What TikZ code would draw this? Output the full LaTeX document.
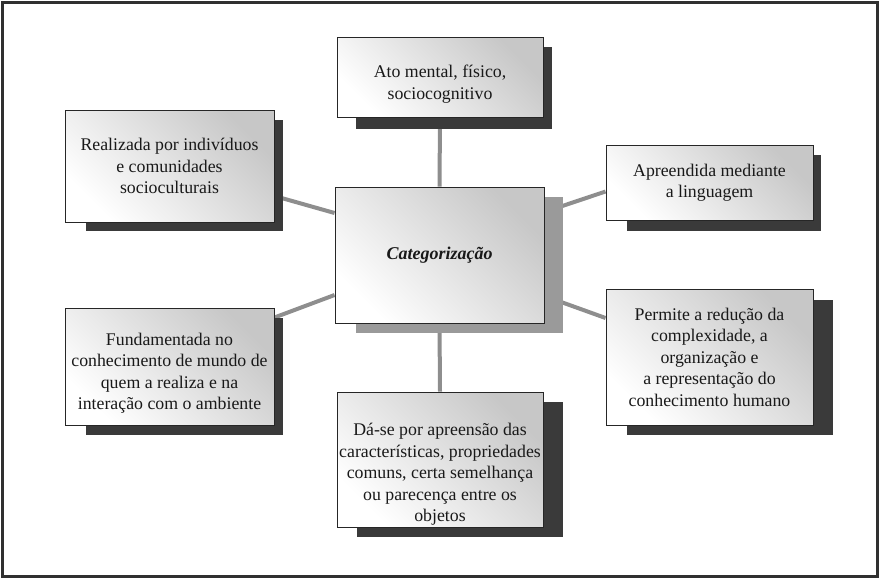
\documentclass[tikz,border=0pt]{standalone}
\usepackage{fontspec}
\setmainfont{Liberation Serif}
\definecolor{shadowdark}{HTML}{3A3A3A}
\definecolor{shadowlight}{HTML}{9A9A9A}
\definecolor{linkgray}{HTML}{8E8E8E}
\definecolor{framegray}{HTML}{303030}
\pgfdeclarelayer{links}
\pgfsetlayers{links,main}
\newcommand{\lowertext}[1]{\rule{0pt}{#1}}
\begin{document}
\begin{tikzpicture}[x=1pt,y=-1pt,
  box/.style={draw=black!85,line width=0.9pt,inner sep=0pt,align=center,
    top color=black!22,bottom color=white,shading angle=-45,
    font=\fontsize{17.8}{21.5}\selectfont,text=black!90},
  link/.style={draw=linkgray,line width=4pt}]
\useasboundingbox (0,0) rectangle (880,579);
\draw[framegray,line width=2.5pt] (2.5,2.5) rectangle (877.5,576.5);
% shadows
\fill[shadowdark] (356,47) rectangle (552,129);
\fill[shadowlight] (356,197) rectangle (563,333);
\fill[shadowdark] (86,120) rectangle (283,231);
\fill[shadowdark] (627,155) rectangle (821,231);
\fill[shadowdark] (627,300) rectangle (833,435);
\fill[shadowdark] (86,318) rectangle (283,435);
\fill[shadowdark] (357,402) rectangle (563,537);
% boxes
\node[box,minimum width=206pt,minimum height=80pt] (t) at (440,77.5) {\lowertext{26pt}Ato mental, físico,\\sociocognitivo};
\node[box,minimum width=209pt,minimum height=136pt] (c) at (439.5,255) {\fontsize{18}{21}\selectfont\bfseries\itshape Categorização};
\node[box,minimum width=209pt,minimum height=112pt] (lt) at (169.5,166) {Realizada por indivíduos\\e comunidades\\socioculturais};
\node[box,minimum width=207pt,minimum height=75pt] (rt) at (709.5,182.5) {Apreendida mediante\\a linguagem};
\node[box,minimum width=207pt,minimum height=136pt] (rb) at (709.5,357) {Permite a redução da\\complexidade, a\\organização e\\a representação do\\conhecimento humano};
\node[box,minimum width=209pt,minimum height=117pt] (lb) at (169.5,366.5) {\lowertext{26pt}Fundamentada no\\conhecimento de mundo de\\quem a realiza e na\\interação com o ambiente};
\node[box,minimum width=206pt,minimum height=135pt] (b) at (440,459.5) {\lowertext{42pt}Dá-se por apreensão das\\características, propriedades\\comuns, certa semelhança\\ou parecença entre os\\objetos};
% links
\begin{pgfonlayer}{links}
\draw[link] (c.north) -- (t.south);
\draw[link] (c.south) -- (b.north);
\draw[link] ([yshift=-30pt]lt.east) -- ([yshift=42pt]c.west);
\draw[link] ([yshift=49pt]lb.east) -- ([yshift=-40pt]c.west);
\draw[link] ([yshift=43pt]c.east) -- ([yshift=-9pt]rt.west);
\draw[link] ([yshift=-41pt]c.east) -- ([yshift=39pt]rb.west);
\end{pgfonlayer}
\end{tikzpicture}
\end{document}
